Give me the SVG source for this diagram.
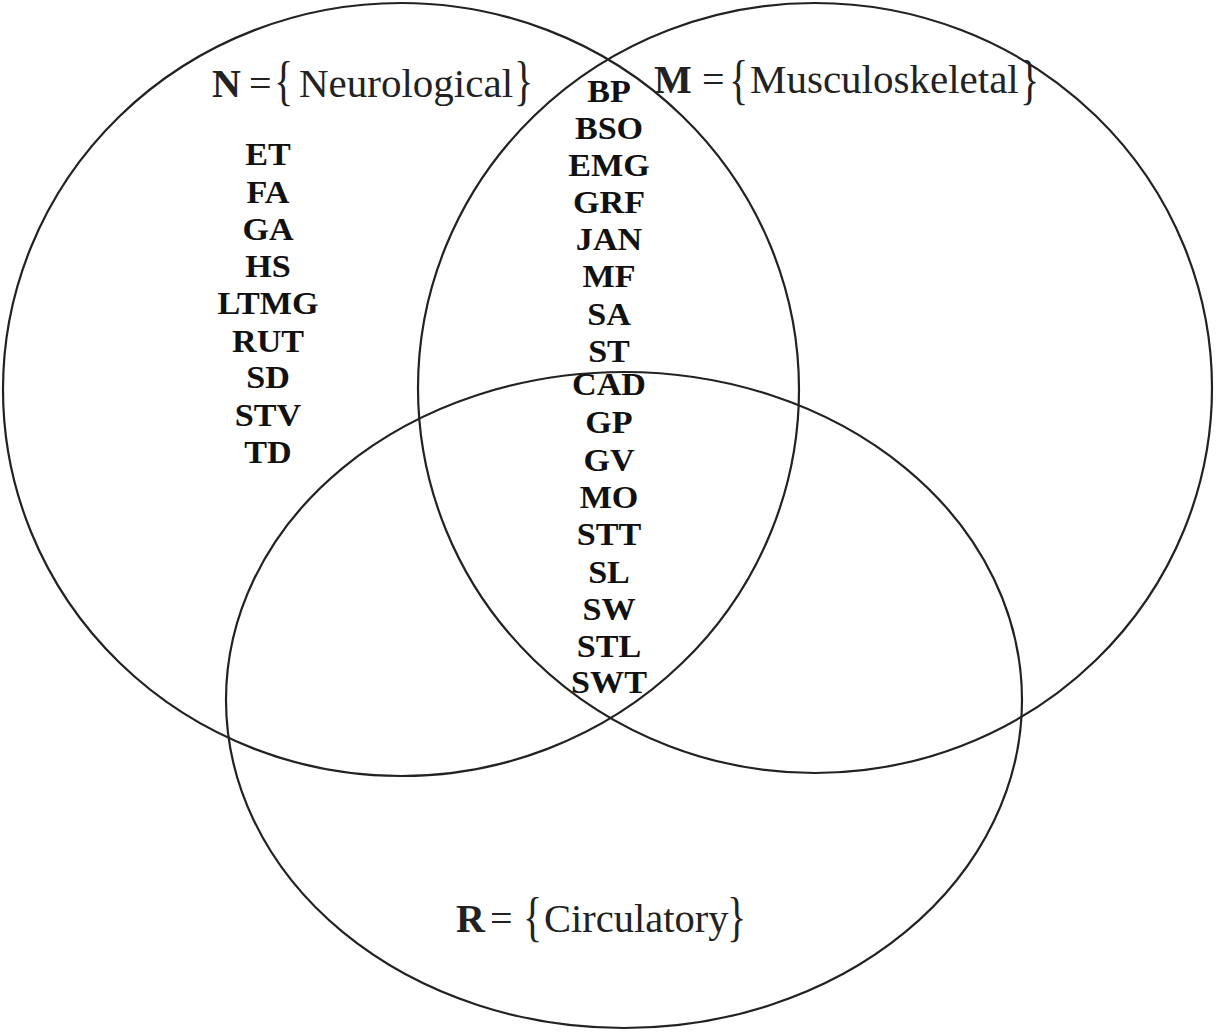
<svg xmlns="http://www.w3.org/2000/svg" width="1216" height="1032" viewBox="0 0 1216 1032">
<style>
.set{fill:none;stroke:#222;stroke-width:2.2}
.lab{font-family:"Liberation Serif","Times New Roman",serif;font-size:40px;fill:#222}
.w{font-size:41px}
.b{font-weight:bold}
.el{font-family:"Liberation Serif","Times New Roman",serif;font-size:31px;font-weight:bold;fill:#111;text-anchor:middle}
</style>
<rect width="1216" height="1032" fill="#fff"/>
<g id="set-N">
<ellipse class="set" cx="401" cy="389.5" rx="398" ry="386.5"/>
<g class="lab">
<text x="212" y="97" class="b">N</text>
<text x="249" y="97">=</text>
<text transform="translate(274,99) scale(1,1.35)">{</text>
<text x="299" y="97" class="w">Neurological</text>
<text transform="translate(514,99) scale(1,1.35)">}</text>
</g>
</g>
<g id="set-M">
<ellipse class="set" cx="815" cy="388" rx="397" ry="385"/>
<g class="lab">
<text x="654" y="93" class="b">M</text>
<text x="702" y="93">=</text>
<text transform="translate(729,98) scale(1,1.35)">{</text>
<text x="750" y="93" class="w">Musculoskeletal</text>
<text transform="translate(1020,98) scale(1,1.35)">}</text>
</g>
</g>
<g id="set-R">
<ellipse class="set" cx="624" cy="700" rx="398" ry="328"/>
<g class="lab">
<text x="456" y="932" class="b">R</text>
<text x="490" y="932">=</text>
<text transform="translate(523,935) scale(1,1.35)">{</text>
<text x="544" y="932" style="font-size:40.5px">Circulatory</text>
<text transform="translate(727,935) scale(1,1.35)">}</text>
</g>
</g>
<g id="items-N" transform="translate(268,0) scale(1.1,1)">
<text class="el" x="0" y="165">ET</text>
<text class="el" x="0" y="203">FA</text>
<text class="el" x="0" y="240">GA</text>
<text class="el" x="0" y="277">HS</text>
<text class="el" x="0" y="314">LTMG</text>
<text class="el" x="0" y="352">RUT</text>
<text class="el" x="0" y="388">SD</text>
<text class="el" x="0" y="426">STV</text>
<text class="el" x="0" y="463">TD</text>
</g>
<g id="items-NM" transform="translate(609,0) scale(1.1,1)">
<text class="el" x="0" y="102">BP</text>
<text class="el" x="0" y="139">BSO</text>
<text class="el" x="0" y="176">EMG</text>
<text class="el" x="0" y="213">GRF</text>
<text class="el" x="0" y="250">JAN</text>
<text class="el" x="0" y="287">MF</text>
<text class="el" x="0" y="325">SA</text>
<text class="el" x="0" y="362">ST</text>
</g>
<g id="items-NMR" transform="translate(609,0) scale(1.1,1)">
<text class="el" x="0" y="395">CAD</text>
<text class="el" x="0" y="433">GP</text>
<text class="el" x="0" y="471">GV</text>
<text class="el" x="0" y="508">MO</text>
<text class="el" x="0" y="545">STT</text>
<text class="el" x="0" y="583">SL</text>
<text class="el" x="0" y="620">SW</text>
<text class="el" x="0" y="657">STL</text>
<text class="el" x="0" y="693">SWT</text>
</g>
<g id="connectors"/>
</svg>
